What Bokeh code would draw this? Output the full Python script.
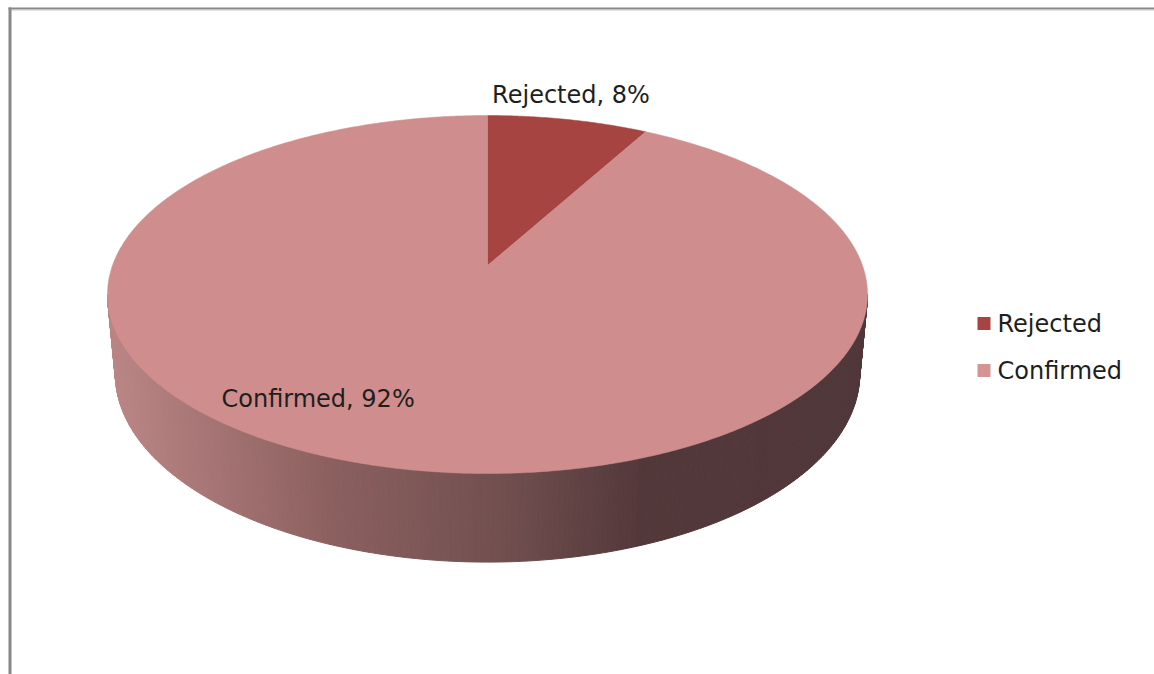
import numpy as np
from bokeh.plotting import figure
from bokeh.models import Range1d
from bokeh.core.properties import value
from bokeh.embed import file_html
from bokeh.resources import INLINE

# ---- data ----
categories = ["Rejected", "Confirmed"]
values = [8, 92]
slice_colors = ["#a64442", "#cf8e8d"]
legend_colors = ["#a64442", "#d39594"]

# ---- 3D perspective pie geometry (layout) ----
CX, CY = 487.0, 265.0        # screen position of disk centre
A = 375.0                    # F/D
B = 174.3
SIN_A = B / A
COS_A = np.sqrt(1 - SIN_A ** 2)
K = 0.162
D = COS_A / K
F = A * D
H = 0.242                    # thickness of the pie (world units)


def proj(theta_deg, r, yw):
    th = np.radians(theta_deg)
    X = r * np.sin(th)
    Z = r * np.cos(th)
    d = D - yw * SIN_A + Z * COS_A
    xs = CX + F * X / d
    yup = F * (yw * COS_A + Z * SIN_A) / d
    return xs, CY - yup


# side gradient colour stops (screen x -> rgb)
stop_x = [105, 330, 500, 640, 870]
stop_rgb = [(188, 134, 134), (140, 96, 96), (114, 80, 80), (84, 57, 59), (80, 55, 57)]


def side_color(x):
    r = np.interp(x, stop_x, [c[0] for c in stop_rgb])
    g = np.interp(x, stop_x, [c[1] for c in stop_rgb])
    b = np.interp(x, stop_x, [c[2] for c in stop_rgb])
    return "#%02x%02x%02x" % (int(r), int(g), int(b))


W, Hpx = 1154, 674
p = figure(width=W, height=Hpx,
           x_range=Range1d(0, W), y_range=Range1d(Hpx, 0),
           output_backend="svg", toolbar_location=None, min_border=0,
           x_axis_location=None, y_axis_location=None)
p.grid.visible = False
p.outline_line_color = None
p.background_fill_color = "white"
p.border_fill_color = "white"

# ---- side wall (front visible part) ----
th_r = np.degrees(np.arccos(-K))
th_l = 360 - th_r
ths = np.linspace(th_r, th_l, 240)
sx, sy, sc = [], [], []
for a0, a1 in zip(ths[:-1], ths[1:]):
    tx0, ty0 = proj(a0, 1, 0)
    tx1, ty1 = proj(a1, 1, 0)
    bx0, by0 = proj(a0, 1, -H)
    bx1, by1 = proj(a1, 1, -H)
    sx.append([tx0, tx1, bx1, bx0])
    sy.append([ty0, ty1, by1, by0])
    sc.append(side_color((tx0 + tx1) / 2))
p.patches(sx, sy, fill_color=sc, line_color=sc, line_width=1)

# ---- top face slices ----
total = sum(values)
start = 0.0
px, py = [], []
mids = []
for v in values:
    span = 360.0 * v / total
    arc = np.linspace(start, start + span, max(int(span * 2), 4))
    ax, ay = proj(arc, 1, 0)
    cx0, cy0 = proj(0, 0, 0)
    px.append([cx0] + list(ax))
    py.append([cy0] + list(ay))
    mids.append(start + span / 2)
    start += span
p.patches(px, py, fill_color=slice_colors, line_color=slice_colors, line_width=0.5)

FONT = value("'DejaVu Sans ExtraLight', 'DejaVu Sans'")
FSIZE = "24px"

# ---- data labels ----
labels = ["%s, %d%%" % (c, round(100 * v / total)) for c, v in zip(categories, values)]
rx, ry = proj(mids[0], 1, 0)
lab_x = [rx - 76, 221]
lab_y = [ry - 25, 398]
p.text(x=lab_x, y=lab_y, text=labels, text_font=FONT,
       text_font_size=FSIZE, text_baseline="middle", text_align="left",
       text_color="#1e1e1e")

# ---- legend ----
leg_y = [323, 370]
p.rect(x=[983.5] * 2, y=leg_y, width=13, height=13, fill_color=legend_colors,
       line_color=None)
p.text(x=[997] * 2, y=leg_y, text=categories, text_font=FONT,
       text_font_size=FSIZE, text_baseline="middle", text_align="left",
       text_color="#1e1e1e")

# ---- frame ----
p.line(x=[8, W], y=[8, 8], line_color="#878787", line_width=2)
p.line(x=[10, W], y=[9.5, 9.5], line_color="#c4c4c4", line_width=1)
p.line(x=[9.5, 9.5], y=[7, Hpx], line_color="#878787", line_width=3)

open("out.html", "w").write(file_html(p, INLINE))
